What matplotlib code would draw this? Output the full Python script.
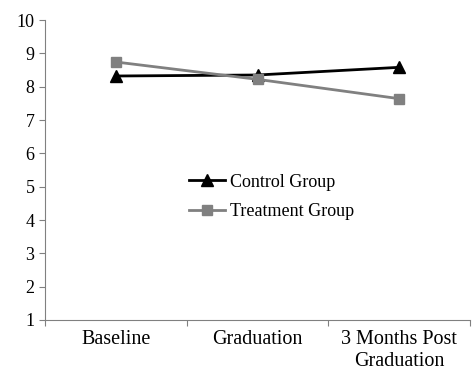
import numpy as np
import matplotlib
matplotlib.use('Agg')
import matplotlib.pyplot as plt

plt.rcParams['font.family'] = ['Liberation Serif', 'DejaVu Serif']

## Datos
categorias = ['Baseline', 'Graduation', '3 Months Post\nGraduation']
control    = [8.32, 8.35, 8.58]
tratamiento = [8.74, 8.22, 7.64]

x = np.arange(len(categorias)) + 0.5

fig = plt.figure(figsize=(4.73, 3.71), dpi=100)
ax = fig.add_axes([45/473, 1-320/371, 425/473, 300/371])

ax.plot(x, control, color='black', linewidth=2.0, marker='^', markersize=8,
        label='Control Group')
ax.plot(x, tratamiento, color='#808080', linewidth=2.0, marker='s', markersize=7,
        label='Treatment Group')

ax.set_xlim(0, 3)
ax.set_ylim(1, 10)
ax.set_yticks(range(1, 11))
ax.set_xticks([0, 1, 2, 3])
ax.set_xticklabels([])
ax.set_xticks(x, minor=True)
ax.set_xticklabels(categorias, minor=True, fontsize=14.5, linespacing=1.2)
ax.tick_params(axis='x', which='minor', length=0, pad=7)
ax.tick_params(axis='x', which='major', length=4, direction='out', color='#808080')
ax.tick_params(axis='y', length=4, direction='out', color='#808080', labelsize=13)

for s in ['top', 'right']:
    ax.spines[s].set_visible(False)
for s in ['left', 'bottom']:
    ax.spines[s].set_color('#808080')

ax.legend(loc='center left', bbox_to_anchor=(0.30, 0.41), frameon=False,
          fontsize=13, handlelength=2.0, handletextpad=0.3, labelspacing=0.7)

fig.savefig('out.png', dpi=100)
